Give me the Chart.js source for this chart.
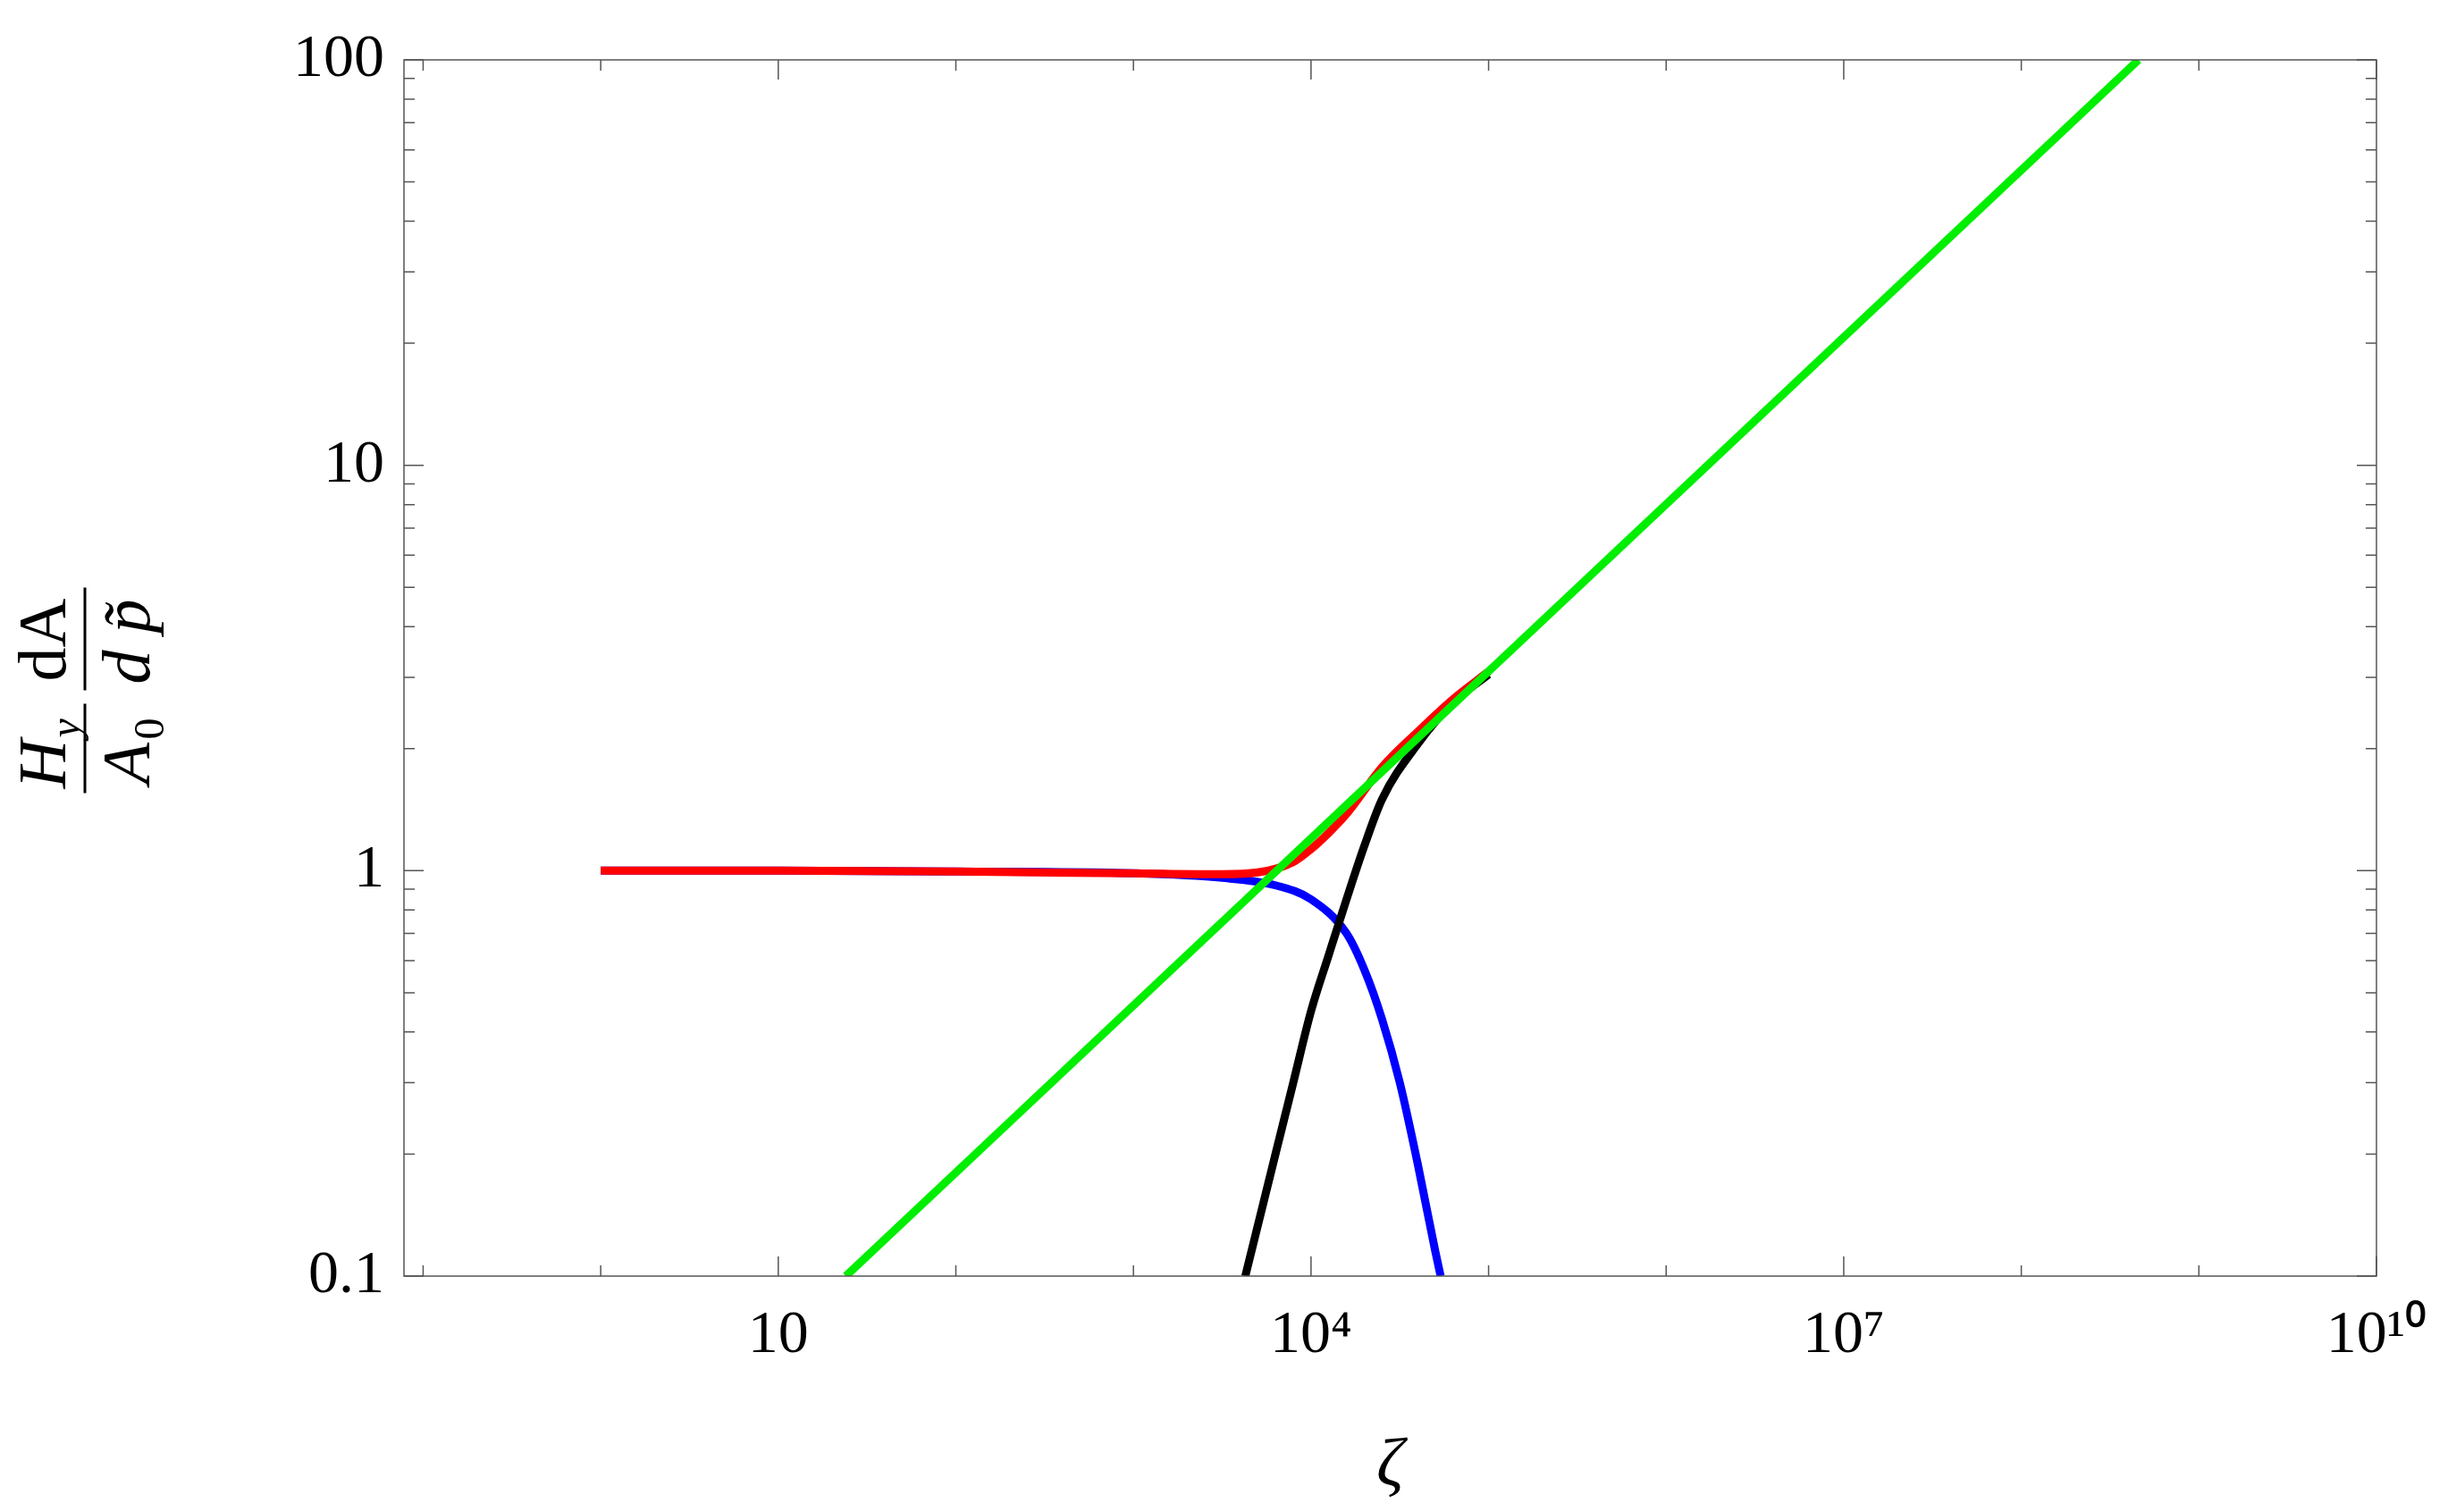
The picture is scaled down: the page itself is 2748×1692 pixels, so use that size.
<!DOCTYPE html>
<html>
<head>
<script src="https://cdn.jsdelivr.net/npm/chart.js@4"></script>
<style>
  html, body { margin: 0; padding: 0; background: #fff; }
  #wrap { width: 2748px; height: 1692px; }
</style>
</head>
<body>
<div id="wrap"><canvas id="c" width="2748" height="1692"></canvas></div>
<script>
// values (x = zeta, y = Hy/A0 dA/dp)
const redX = [1, 10, 100, 1000, 3162, 5012, 7943, 10000, 12589, 15849, 25119, 39811, 63096, 100000];
const redY = [1, 1, 0.995, 0.985, 0.98, 0.99, 1.05, 1.13, 1.24, 1.38, 1.8, 2.2, 2.65, 3.1];
const blueX = [1, 10, 100, 1000, 3162, 6310, 10000, 15849, 19953, 25119, 31623, 39811, 50119, 53703];
const blueY = [1, 1, 0.995, 0.985, 0.96, 0.92, 0.85, 0.7, 0.57, 0.43, 0.3, 0.19, 0.115, 0.1];
const blackX = [4266, 6310, 7943, 10000, 12589, 15849, 19953, 25119, 39811, 63096, 100000];
const blackY = [0.1, 0.2, 0.3, 0.45, 0.62, 0.85, 1.15, 1.5, 2.05, 2.6, 3.05];
const greenX = [24, 4.57e8];
const greenY = [0.1, 100];
const xTicks = [10, 1e4, 1e7, 1e10];
const xTickLabels = ["10", "10⁴", "10⁷", "10¹⁰"];
const yTicks = [0.1, 1, 10, 100];
const yTickLabels = ["0.1", "1", "10", "100"];

const pts = (xs, ys) => xs.map((x, i) => ({ x: x, y: ys[i] }));
const F = "Liberation Serif";

// inward tick marks on all four sides, plus the fraction y title
const tickPlugin = {
  id: "ticks",
  afterDraw(chart) {
    const ctx = chart.ctx, a = chart.chartArea;
    const xs = chart.scales.x, ys = chart.scales.y;
    ctx.save();
    ctx.strokeStyle = "#555";
    ctx.lineWidth = 1.5;
    ctx.strokeRect(a.left, a.top, a.right - a.left, a.bottom - a.top);
    for (let d = -1; d <= 10; d++) {
      const v = Math.pow(10, d);
      if (v < xs.min || v > xs.max) continue;
      const p = xs.getPixelForValue(v);
      const len = d % 3 === 1 ? 22 : 12;
      ctx.beginPath();
      ctx.moveTo(p, a.bottom); ctx.lineTo(p, a.bottom - len);
      ctx.moveTo(p, a.top); ctx.lineTo(p, a.top + len);
      ctx.stroke();
    }
    for (let d = -1; d <= 2; d++) {
      for (let m = 1; m <= 9; m++) {
        const v = m * Math.pow(10, d);
        if (v < ys.min - 1e-9 || v > ys.max + 1e-9) continue;
        const p = ys.getPixelForValue(v);
        const len = m === 1 ? 22 : 12;
        ctx.beginPath();
        ctx.moveTo(a.left, p); ctx.lineTo(a.left + len, p);
        ctx.moveTo(a.right, p); ctx.lineTo(a.right - len, p);
        ctx.stroke();
      }
    }
    ctx.fillStyle = "#000";
    ctx.translate(95, (a.top + a.bottom) / 2 - 10);
    ctx.rotate(-Math.PI / 2);
    ctx.textBaseline = "alphabetic";
    ctx.textAlign = "left";
    // numerator / denominator, left fraction
    ctx.font = "italic 76px " + F;
    ctx.fillText("H", -145, -22);
    ctx.font = "italic 48px " + F;
    ctx.fillText("y", -88, -6);
    ctx.font = "italic 76px " + F;
    ctx.fillText("A", -140, 72);
    ctx.font = "48px " + F;
    ctx.fillText("0", -90, 88);
    // right fraction
    ctx.font = "76px " + F;
    ctx.fillText("dA", -25, -22);
    ctx.font = "italic 76px " + F;
    ctx.fillText("d p̃", -28, 72);
    ctx.strokeStyle = "#000";
    ctx.lineWidth = 3;
    ctx.beginPath();
    ctx.moveTo(-150, 0); ctx.lineTo(-50, 0);
    ctx.moveTo(-35, 0); ctx.lineTo(80, 0);
    ctx.stroke();
    ctx.restore();
  }
};

const ds = (xs, ys, col) => ({
  data: pts(xs, ys), borderColor: col, borderWidth: 9,
  pointRadius: 0, fill: false, tension: 0.4, cubicInterpolationMode: "monotone"
});

new Chart(document.getElementById("c").getContext("2d"), {
  type: "line",
  data: {
    datasets: [
      ds(greenX, greenY, "#00ee00"),
      ds(redX, redY, "#ff0000"),
      ds(blackX, blackY, "#000000"),
      ds(blueX, blueY, "#0000ff")
    ]
  },
  options: {
    responsive: false,
    animation: false,
    layout: { padding: { top: 67, right: 89 } },
    plugins: { legend: { display: false }, tooltip: { enabled: false } },
    scales: {
      x: {
        type: "logarithmic", min: 0.078, max: 1e10,
        afterFit: s => { s.height = 264; },
        afterBuildTicks: s => { s.ticks = xTicks.map(v => ({ value: v })); },
        grid: { display: false }, border: { display: false },
        ticks: {
          autoSkip: false, maxRotation: 0, color: "#000", padding: 18,
          font: { family: F, size: 68 },
          callback: v => xTickLabels[xTicks.indexOf(v)]
        },
        title: { display: true, text: "ζ", color: "#000", font: { family: F, size: 76, style: "italic" }, padding: { top: 30 } }
      },
      y: {
        type: "logarithmic", min: 0.1, max: 100,
        afterFit: s => { s.width = 452; },
        afterBuildTicks: s => { s.ticks = yTicks.map(v => ({ value: v })); },
        grid: { display: false }, border: { display: false },
        ticks: {
          autoSkip: false, color: "#000", padding: 14,
          font: { family: F, size: 68 },
          callback: v => yTickLabels[yTicks.indexOf(v)]
        }
      }
    }
  },
  plugins: [tickPlugin]
});
</script>
</body>
</html>
